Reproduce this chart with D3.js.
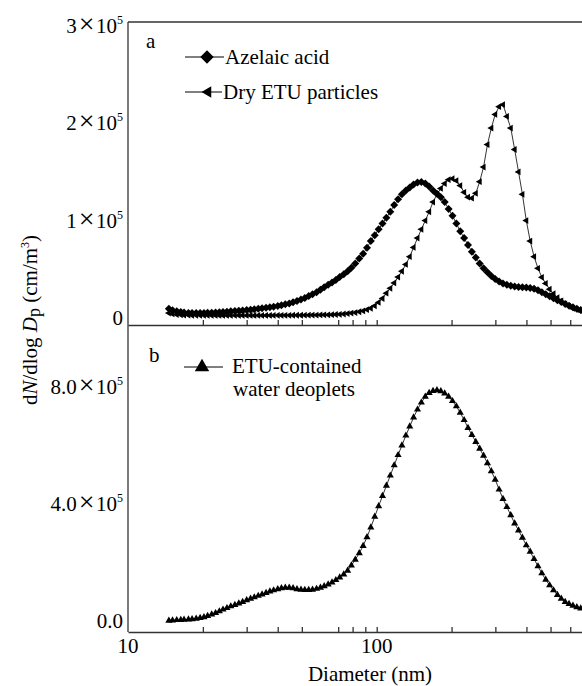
<!DOCTYPE html>
<html>
<head>
<meta charset="utf-8">
<script src="https://cdnjs.cloudflare.com/ajax/libs/d3/7.8.5/d3.min.js"></script>
<style>
  body { margin: 0; background: #fff; font-family: "Liberation Serif", "Times New Roman", Times, "DejaVu Serif", serif; }
  text { font-family: "Liberation Serif", "Times New Roman", Times, "DejaVu Serif", serif; }
</style>
</head>
<body>
<svg id="chart" width="582" height="686"></svg>
<script>
// SMPS channel mid-point diameters (nm)
var diameters = [14.6, 15.1, 15.7, 16.3, 16.8, 17.5, 18.1, 18.8, 19.5, 20.2, 20.9, 21.7, 22.5, 23.3, 24.1, 25.0,
  25.9, 26.9, 27.9, 28.9, 30.0, 31.1, 32.2, 33.4, 34.6, 35.9, 37.2, 38.5, 40.0, 41.4, 42.9, 44.5, 46.1, 47.8,
  49.6, 51.4, 53.3, 55.2, 57.3, 59.4, 61.5, 63.8, 66.1, 68.5, 71.0, 73.7, 76.4, 79.1, 82.0, 85.1, 88.2, 91.4,
  94.7, 98.2, 101.8, 105.5, 109.4, 113.4, 117.6, 121.9, 126.3, 131.0, 135.8, 140.7, 145.9, 151.2, 156.8, 162.5,
  168.5, 174.7, 181.1, 187.7, 194.6, 201.7, 209.1, 216.7, 224.7, 232.9, 241.4, 250.3, 259.5, 269.0, 278.8, 289.0,
  299.6, 310.6, 322.0, 333.8, 346.0, 358.7, 371.8, 385.4, 399.5, 414.2, 429.4, 445.1, 461.4, 478.3, 495.8, 514.0,
  532.8, 552.3, 572.5, 593.5, 615.3, 637.8, 661.2];

// panel a, dN/dlogDp in units of 10^3
var azelaic = [9.5, 8, 7, 6.2, 5.6, 5.2, 5, 5, 5.1, 5.2, 5.4, 5.5, 5.7, 5.9, 6.1, 6.4, 6.8, 7.1, 7.5, 7.8,
  8.2, 8.5, 9, 9.5, 10, 10.5, 11, 11.6, 12.3, 13, 14, 15, 16.2, 17.5, 19, 20.5, 22.5, 24.5, 26.5, 29,
  31.5, 34, 36.5, 39, 42, 45, 48, 51.5, 56, 61, 66, 72, 79, 85, 91, 97, 103, 109, 116, 122,
  127, 131, 134, 137, 139, 139.5, 138, 135, 131, 127.5, 124, 119, 112, 105, 97, 89, 82, 75, 68, 62,
  56, 51, 47, 43, 40, 37.5, 35.5, 34, 33, 32.3, 31.8, 31.5, 31.2, 30.8, 30, 28.5, 26.5, 24.5, 22.3, 20.3,
  18.3, 16.3, 14.3, 12.5, 11, 9.5, 8.2];

var dryEtu = [5, 4.2, 3.6, 3.2, 3, 2.9, 2.8, 2.8, 2.7, 2.7, 2.7, 2.6, 2.6, 2.6, 2.6, 2.6, 2.6, 2.6, 2.6, 2.6,
  2.6, 2.6, 2.6, 2.6, 2.6, 2.6, 2.6, 2.6, 2.7, 2.7, 2.7, 2.7, 2.8, 2.8, 2.8, 2.9, 2.9, 3, 3, 3.1,
  3.2, 3.3, 3.4, 3.6, 3.8, 4.1, 4.5, 5, 5.6, 6.4, 7.3, 8.5, 10, 12.5, 16, 20, 25.5, 30.5, 36, 42,
  48, 55, 63, 72.5, 82, 91, 100, 109, 119, 127, 133, 138, 142, 143, 141, 136, 129, 124, 123, 128,
  140, 155, 178, 195, 209, 217, 219, 207, 195, 173, 150, 127, 100, 79, 63, 51, 41.8, 35.5, 29.5, 25,
  21, 17.5, 14.5, 12, 10, 8.5, 7.5];

// panel b, dN/dlogDp in units of 10^3
var droplets = [1, 2, 3, 3.5, 4.5, 5, 6, 8, 10, 13, 17, 22, 27, 33, 39, 44, 50, 55, 60, 65,
  71, 76, 81, 86, 91, 96, 101, 105, 109, 112, 114, 114, 112, 109, 107, 106, 106, 107, 110, 114,
  119, 125, 132, 140, 149, 159, 172, 190, 210, 232, 257, 287, 320, 357, 393, 428, 463, 498, 533, 568,
  601, 635, 666, 697, 724, 748, 768, 781, 788, 790, 787, 779, 768, 753, 735, 713, 688, 661, 637, 613,
  590, 566, 540, 513, 484, 450, 418, 390, 362, 334, 310, 285, 259, 237, 212, 187, 163, 141, 122, 105,
  89, 76, 65, 58, 52, 47, 43];

var xTicks = [20, 30, 40, 50, 70, 80, 90, 100, 200, 300, 400, 500, 600];
var xLabels = [10, 100];
var topTicks = [0, 100, 200, 300];
var topTickText = ["0", "1", "2", "3"];
var botTicks = [0, 400, 800];
var botTickText = ["0.0", "4.0", "8.0"];

var serif = '"Liberation Serif", "Times New Roman", Times, "DejaVu Serif", serif';
var svg = d3.select("#chart").attr("font-family", serif);
var axisColor = "#333";

var x = d3.scaleLog().domain([10, 1000]).range([128, 625.4]);
var yTop = d3.scaleLinear().domain([-7.2, 303.9]).range([325, 22]);
var yBot = d3.scaleLinear().domain([-38, 1010]).range([632, 326]);

// frame
svg.append("line").attr("x1", 128).attr("x2", 128).attr("y1", 22).attr("y2", 632)
  .attr("stroke", axisColor).attr("stroke-width", 1.3);
svg.append("line").attr("x1", 128).attr("x2", 626).attr("y1", 22).attr("y2", 22)
  .attr("stroke", axisColor).attr("stroke-width", 1.3);

function xAxis(yPos) {
  var g = svg.append("g").attr("transform", "translate(0," + yPos + ")")
    .call(d3.axisBottom(x).tickValues(xTicks).tickSize(-5).tickSizeOuter(0).tickFormat(""));
  g.selectAll("path, line").attr("stroke", axisColor).attr("stroke-width", 1.3);
  return g;
}
xAxis(325);
xAxis(632);

svg.selectAll("text.xlab").data(xLabels).enter().append("text")
  .attr("x", function (d) { return x(d); }).attr("y", 653)
  .attr("text-anchor", "middle").attr("font-size", 21).text(function (d) { return d; });

svg.append("text").attr("x", 370).attr("y", 681).attr("text-anchor", "middle")
  .attr("font-size", 21).text("Diameter (nm)");

function tickLabel(yPos, mant, withExp) {
  var t = svg.append("text").attr("x", 123).attr("y", yPos + 7)
    .attr("text-anchor", "end").attr("font-size", 21);
  t.append("tspan").text(mant);
  if (withExp) {
    t.append("tspan").attr("font-size", 28).attr("dx", 2).text("\u00d7");
    t.append("tspan").attr("dx", 1.5).text("10");
    t.append("tspan").attr("font-size", 12).attr("dy", -9).text("5");
  }
}
topTicks.forEach(function (v, i) { tickLabel(yTop(v), topTickText[i], v !== 0); });
botTicks.forEach(function (v, i) { tickLabel(yBot(v), botTickText[i], v !== 0); });

// y title
var yt = svg.append("text").attr("transform", "translate(37,320) rotate(-90)")
  .attr("text-anchor", "middle").attr("font-size", 21);
yt.append("tspan").text("d");
yt.append("tspan").attr("font-style", "italic").text("N");
yt.append("tspan").text("/dlog ");
yt.append("tspan").attr("font-style", "italic").text("D");
yt.append("tspan").attr("font-size", 18).attr("dy", 3).text("p");
yt.append("tspan").attr("dy", -3).text(" (cm/m");
yt.append("tspan").attr("font-size", 12).attr("dy", -8).text("3");
yt.append("tspan").attr("dy", 8).text(")");

// series
var diamond = d3.symbol().type(d3.symbolSquare);
var tri = d3.symbol().type(d3.symbolTriangle);

function series(values, yScale, shape, size, rot) {
  var pts = diameters.map(function (d, i) { return [d, values[i]]; });
  var line = d3.line().x(function (p) { return x(p[0]); }).y(function (p) { return yScale(p[1]); });
  svg.append("path").attr("d", line(pts)).attr("fill", "none")
    .attr("stroke", "#000").attr("stroke-width", 0.8);
  svg.append("g").selectAll("path").data(pts).enter().append("path")
    .attr("d", shape.size(size)())
    .attr("transform", function (p) {
      return "translate(" + x(p[0]) + "," + yScale(p[1]) + ") rotate(" + rot + ")";
    })
    .attr("fill", "#000");
}
series(dryEtu, yTop, tri, 20, -90);
series(azelaic, yTop, diamond, 32, 45);
series(droplets, yBot, tri, 22, 0);

// panel letters
svg.append("text").attr("x", 146).attr("y", 48).attr("font-size", 21).text("a");
svg.append("text").attr("x", 149).attr("y", 362).attr("font-size", 21).text("b");

// legends
function legendItem(x1, x2, yPos, mx, shape, size, rot) {
  svg.append("line").attr("x1", x1).attr("x2", x2).attr("y1", yPos).attr("y2", yPos)
    .attr("stroke", "#000").attr("stroke-width", 1);
  svg.append("path").attr("d", shape.size(size)())
    .attr("transform", "translate(" + mx + "," + yPos + ") rotate(" + rot + ")").attr("fill", "#000");
}
legendItem(185, 224, 57, 207, diamond, 90, 45);
svg.append("text").attr("x", 225).attr("y", 64).attr("font-size", 21).text("Azelaic acid");
legendItem(185, 222, 92, 208, tri, 55, -90);
svg.append("text").attr("x", 223).attr("y", 99).attr("font-size", 21).text("Dry ETU particles");

legendItem(184, 223, 367, 202, tri, 90, 0);
svg.append("text").attr("x", 232).attr("y", 373).attr("font-size", 21).text("ETU-contained");
svg.append("text").attr("x", 233).attr("y", 396).attr("font-size", 21).text("water deoplets");
</script>
</body>
</html>
